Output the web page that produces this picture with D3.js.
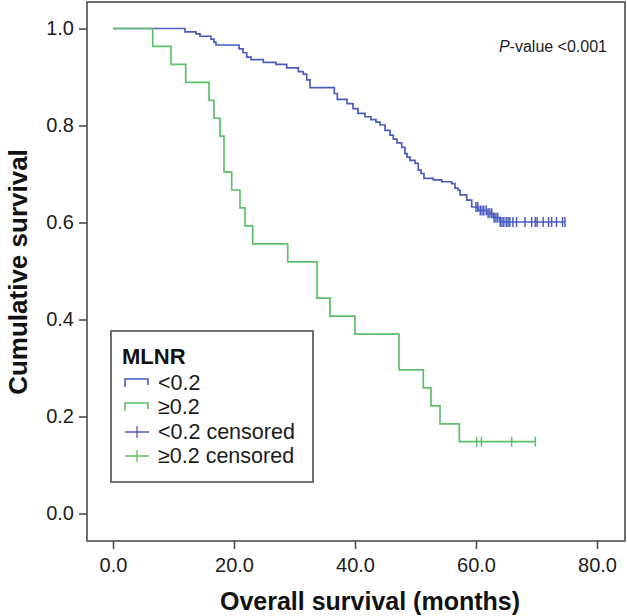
<!DOCTYPE html>
<html>
<head>
<meta charset="utf-8">
<script src="https://cdn.jsdelivr.net/npm/d3@7"></script>
<style>
  html, body { margin: 0; padding: 0; background: #fff; }
  svg { display: block; font-family: "Liberation Sans", Arial, sans-serif; }
</style>
</head>
<body>
<svg id="chart" width="627" height="616"></svg>
<script>
// ---- data ----
const xTicks = [0, 20, 40, 60, 80];
const yTicks = [0, 0.2, 0.4, 0.6, 0.8, 1.0];

// MLNR < 0.2 : event times (months) and survival after each event
const lowTimes = [11.9, 13.72, 14.38, 16.2, 16.69, 17.02, 20.83, 21.49, 22.1, 22.81,
  24.84, 26.94, 28.71, 30.63, 31.45, 32.02, 32.56, 36.58, 37.08, 38.68,
  39.67, 40.5, 41.65, 42.64, 43.47, 44.13, 44.96, 45.79, 46.33, 46.94,
  47.72, 48.26, 48.6, 49.09, 49.92, 50.46, 50.91, 51.4, 52.94, 54.33,
  55.98, 56.53, 57.02, 57.36, 58.46, 59.29, 60.38, 61.77, 62.86, 63.97];
const lowSurv = [0.993, 0.989, 0.984, 0.978, 0.972, 0.966, 0.958, 0.950, 0.941, 0.936,
  0.930, 0.926, 0.919, 0.911, 0.906, 0.894, 0.878, 0.866, 0.854, 0.845,
  0.835, 0.825, 0.818, 0.812, 0.807, 0.801, 0.790, 0.780, 0.772, 0.764,
  0.755, 0.742, 0.735, 0.728, 0.722, 0.708, 0.701, 0.691, 0.688, 0.684,
  0.680, 0.671, 0.667, 0.657, 0.646, 0.632, 0.625, 0.619, 0.610, 0.601];
const lowCensored = [60.0, 60.3, 60.7, 61.0, 61.3, 61.7, 62.0, 62.3, 62.6, 63.0,
  63.3, 63.6, 64.0, 64.3, 64.6, 65.0, 65.3, 65.6, 66.1, 66.7,
  68.1, 69.2, 69.8, 70.1, 71.1, 72.0, 72.5, 73.3, 74.3, 74.7];

// MLNR >= 0.2
const highTimes = [6.56, 9.59, 12.02, 15.87, 16.69, 17.69, 18.35, 19.62, 20.99, 21.82,
  23.09, 28.88, 33.72, 35.87, 40.0, 47.27, 51.29, 52.56, 54.05, 57.24];
const highSurv = [0.963, 0.926, 0.889, 0.852, 0.815, 0.778, 0.704, 0.667, 0.630, 0.593,
  0.556, 0.519, 0.444, 0.407, 0.370, 0.296, 0.259, 0.222, 0.185, 0.148];
const highCensored = [60.1, 60.9, 65.9, 69.8];

const groupLabels = ["<0.2", "\u22650.2", "<0.2 censored", "\u22650.2 censored"];
const legendTitle = "MLNR";
const colors = { low: "#4a5dbd", high: "#5cc06a" };

// ---- layout ----
const svg = d3.select("#chart");
const x = d3.scaleLinear().domain([0, 80]).range([113, 597]);
const y = d3.scaleLinear().domain([0, 1]).range([513.5, 28.5]);
const frame = { left: 87, top: 2, right: 625, bottom: 541 };
const axisColor = "#4d4d4d";
const textColor = "#1c1c1c";

// frame
svg.append("rect")
  .attr("x", frame.left).attr("y", frame.top)
  .attr("width", frame.right - frame.left).attr("height", frame.bottom - frame.top)
  .attr("fill", "none").attr("stroke", axisColor).attr("stroke-width", 1.6);

// x axis
const xAxis = d3.axisBottom(x).tickValues(xTicks).tickFormat(d3.format(".1f")).tickSize(8).tickSizeOuter(0);
const gx = svg.append("g").attr("transform", `translate(0,${frame.bottom})`).call(xAxis);
gx.select(".domain").remove();
gx.selectAll(".tick line").attr("stroke", axisColor).attr("stroke-width", 1.6);
gx.selectAll(".tick text").attr("font-size", 20).attr("fill", textColor)
  .attr("font-family", "Liberation Sans, Arial, sans-serif").attr("y", 17).attr("dy", "0.71em");

// y axis
const yAxis = d3.axisLeft(y).tickValues(yTicks).tickFormat(d3.format(".1f")).tickSize(8).tickSizeOuter(0);
const gy = svg.append("g").attr("transform", `translate(${frame.left},0)`).call(yAxis);
gy.select(".domain").remove();
gy.selectAll(".tick line").attr("stroke", axisColor).attr("stroke-width", 1.6);
gy.selectAll(".tick text").attr("font-size", 20).attr("fill", textColor)
  .attr("font-family", "Liberation Sans, Arial, sans-serif").attr("x", -13);

// axis titles
svg.append("text")
  .attr("x", 370).attr("y", 610).attr("text-anchor", "middle")
  .attr("font-size", 25).attr("font-weight", "bold").attr("fill", "#111")
  .text("Overall survival (months)");
svg.append("text")
  .attr("transform", "translate(27,272) rotate(-90)").attr("text-anchor", "middle")
  .attr("font-size", 26).attr("font-weight", "bold").attr("fill", "#111")
  .text("Cumulative survival");

// P-value
const pv = svg.append("text").attr("x", 607).attr("y", 52).attr("text-anchor", "end")
  .attr("font-size", 16).attr("fill", textColor);
pv.append("tspan").attr("font-style", "italic").text("P");
pv.append("tspan").text("-value <0.001");

// ---- survival curves ----
function stepData(times, surv, endTime) {
  const pts = [{ t: 0, s: 1 }];
  times.forEach((t, i) => pts.push({ t: t, s: surv[i] }));
  pts.push({ t: endTime, s: surv[surv.length - 1] });
  return pts;
}
function survAt(times, surv, t) {
  const i = d3.bisectRight(times, t);
  return i === 0 ? 1 : surv[i - 1];
}
const line = d3.line().x(d => x(d.t)).y(d => y(d.s)).curve(d3.curveStepAfter);

const groups = [
  { key: "low", times: lowTimes, surv: lowSurv, cens: lowCensored },
  { key: "high", times: highTimes, surv: highSurv, cens: highCensored }
];
groups.forEach(g => {
  const end = Math.max(d3.max(g.cens), d3.max(g.times));
  svg.append("path")
    .datum(stepData(g.times, g.surv, end))
    .attr("d", line)
    .attr("fill", "none").attr("stroke", colors[g.key]).attr("stroke-width", 1.7);
  svg.append("g").selectAll("line").data(g.cens).join("line")
    .attr("x1", d => x(d)).attr("x2", d => x(d))
    .attr("y1", d => y(survAt(g.times, g.surv, d)) - 5)
    .attr("y2", d => y(survAt(g.times, g.surv, d)) + 5)
    .attr("stroke", colors[g.key]).attr("stroke-width", 1.5);
});

// ---- legend ----
const lg = svg.append("g");
lg.append("rect").attr("x", 111).attr("y", 331).attr("width", 202).attr("height", 151)
  .attr("fill", "#fff").attr("stroke", axisColor).attr("stroke-width", 1.6);
lg.append("text").attr("x", 122).attr("y", 364).attr("font-size", 22).attr("font-weight", "bold")
  .attr("fill", "#111").text(legendTitle);
const rowY = [383, 407, 432, 456];
const rowColor = [colors.low, colors.high, colors.low, colors.high];
groupLabels.forEach((lab, i) => {
  const cy = rowY[i];
  if (i < 2) {
    lg.append("path")
      .attr("d", `M125,${cy + 4}V${cy - 4}H148V${cy + 2}`)
      .attr("fill", "none").attr("stroke", rowColor[i]).attr("stroke-width", 1.6);
  } else {
    lg.append("path")
      .attr("d", `M125,${cy}H149M137,${cy - 6}V${cy + 6}`)
      .attr("fill", "none").attr("stroke", rowColor[i]).attr("stroke-width", 1.3);
  }
  lg.append("text").attr("x", 158).attr("y", cy + 7).attr("font-size", 21.5)
    .attr("fill", textColor).text(lab);
});
</script>
</body>
</html>
